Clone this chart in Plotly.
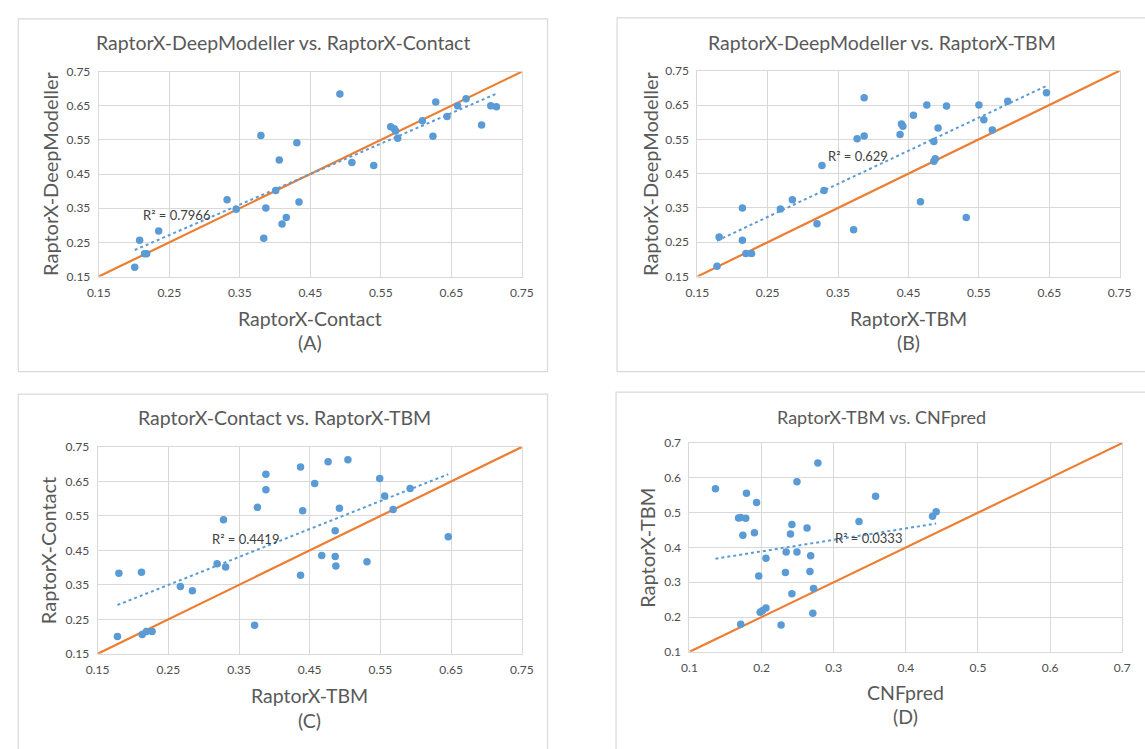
import numpy as np
import plotly.graph_objects as go

# ---------------- data ----------------
a_x = [0.492, 0.628, 0.671, 0.659, 0.706, 0.714, 0.644, 0.609, 0.693, 0.564, 0.569, 0.571,
       0.574, 0.624, 0.380, 0.431, 0.406, 0.509, 0.540, 0.401, 0.332, 0.434, 0.345, 0.387,
       0.416, 0.410, 0.235, 0.208, 0.384, 0.215, 0.218, 0.201]
a_y = [0.685, 0.661, 0.671, 0.650, 0.650, 0.647, 0.619, 0.606, 0.594, 0.589, 0.583, 0.576,
       0.555, 0.561, 0.563, 0.542, 0.491, 0.484, 0.475, 0.402, 0.375, 0.368, 0.347, 0.351,
       0.323, 0.304, 0.283, 0.256, 0.262, 0.217, 0.217, 0.177]

b_x = [0.387, 0.646, 0.591, 0.476, 0.504, 0.550, 0.457, 0.557, 0.440, 0.442, 0.492, 0.569,
       0.438, 0.387, 0.377, 0.486, 0.488, 0.486, 0.327, 0.330, 0.467, 0.285, 0.268, 0.214,
       0.532, 0.320, 0.372, 0.181, 0.214, 0.219, 0.227, 0.178]
b_y = [0.671, 0.686, 0.661, 0.650, 0.647, 0.650, 0.620, 0.607, 0.595, 0.588, 0.583, 0.577,
       0.564, 0.560, 0.552, 0.544, 0.493, 0.486, 0.474, 0.401, 0.368, 0.374, 0.347, 0.350,
       0.322, 0.304, 0.286, 0.265, 0.256, 0.217, 0.217, 0.180]

c_x = [0.504, 0.476, 0.437, 0.388, 0.549, 0.457, 0.592, 0.388, 0.556, 0.376, 0.492, 0.568,
       0.440, 0.328, 0.486, 0.646, 0.467, 0.486, 0.531, 0.319, 0.331, 0.487, 0.437, 0.180,
       0.212, 0.267, 0.284, 0.372, 0.178, 0.213, 0.219, 0.227]
c_y = [0.713, 0.707, 0.692, 0.671, 0.659, 0.644, 0.630, 0.626, 0.608, 0.575, 0.572, 0.569,
       0.565, 0.539, 0.507, 0.490, 0.435, 0.432, 0.417, 0.411, 0.402, 0.405, 0.378, 0.384,
       0.387, 0.345, 0.333, 0.233, 0.200, 0.206, 0.215, 0.215]

d_x = [0.278, 0.249, 0.136, 0.179, 0.358, 0.193, 0.442, 0.437, 0.168, 0.171, 0.178, 0.335,
       0.242, 0.263, 0.190, 0.240, 0.174, 0.234, 0.249, 0.268, 0.206, 0.233, 0.267, 0.196,
       0.272, 0.242, 0.206, 0.198, 0.201, 0.271, 0.171, 0.227]
d_y = [0.643, 0.589, 0.569, 0.556, 0.547, 0.529, 0.503, 0.490, 0.485, 0.486, 0.484, 0.475,
       0.466, 0.456, 0.442, 0.439, 0.435, 0.387, 0.387, 0.376, 0.369, 0.328, 0.331, 0.318,
       0.282, 0.267, 0.226, 0.214, 0.218, 0.211, 0.179, 0.177]

titles = ["RaptorX-DeepModeller vs. RaptorX-Contact", "RaptorX-DeepModeller vs. RaptorX-TBM",
          "RaptorX-Contact vs. RaptorX-TBM", "RaptorX-TBM vs. CNFpred"]
x_titles = ["RaptorX-Contact", "RaptorX-TBM", "RaptorX-TBM", "CNFpred"]
y_titles = ["RaptorX-DeepModeller", "RaptorX-DeepModeller", "RaptorX-Contact", "RaptorX-TBM"]
panel_labels = ["(A)", "(B)", "(C)", "(D)"]
r2_texts = ["R² = 0.7966", "R² = 0.629", "R² = 0.4419", "R² = 0.0333"]
r2_pos = [(0.26, 0.329), (0.378, 0.501), (0.359, 0.482), (0.348, 0.426)]
ticks_abc = [0.15, 0.25, 0.35, 0.45, 0.55, 0.65, 0.75]
ticks_d = [0.1, 0.2, 0.3, 0.4, 0.5, 0.6, 0.7]

# ---------------- layout geometry (pixels) ----------------
W, H = 1145, 749
plots = [  # left, right, top, bottom
    (88.6, 520.7, 65, 274),
    (700, 1131.4, 64, 274),
    (87.5, 520.7, 448, 659),
    (692, 1134, 444, 657),
]
boxes = [(6.4, 547, 11, 371), (618, 1160, 10, 371), (6.4, 547, 394, 760), (617, 1160, 392, 760)]
title_pos = [(277, 35), (889, 35), (278, 418), (888, 417)]
title_size = [19.5, 19.5, 19.5, 18]
xt_y = [(317, 341), (317, 341), (702, 727), (698, 723)]
yt_x = [38.6, 651, 37.5, 649]

def px(x):
    return x / W

def py(y):
    return 1 - y / H

BLUE = "#5B9BD5"
ORANGE = "#ED7D31"
GRID = "#D9D9D9"
TXT = "#595959"
FONT = "Lato"

fig = go.Figure()
data = [(a_x, a_y), (b_x, b_y), (c_x, c_y), (d_x, d_y)]
annotations = []
shapes = []

for i, (xs, ys) in enumerate(data):
    n = "" if i == 0 else str(i + 1)
    xa, ya = "x" + n, "y" + n
    ticks = ticks_d if i == 3 else ticks_abc
    lo, hi = ticks[0], ticks[-1]
    # y = x reference line
    fig.add_trace(go.Scatter(x=[lo, hi], y=[lo, hi], mode="lines",
                             line=dict(color=ORANGE, width=2.2), xaxis=xa, yaxis=ya,
                             showlegend=False, hoverinfo="skip"))
    # linear trendline fitted from the data
    k, b = np.polyfit(xs, ys, 1)
    tx = np.array([min(xs), max(xs)])
    fig.add_trace(go.Scatter(x=tx, y=k * tx + b, mode="lines",
                             line=dict(color=BLUE, width=2, dash="dot"), xaxis=xa, yaxis=ya,
                             showlegend=False, hoverinfo="skip"))
    fig.add_trace(go.Scatter(x=xs, y=ys, mode="markers",
                             marker=dict(color=BLUE, size=7.5), xaxis=xa, yaxis=ya,
                             showlegend=False))
    l, r, t, btm = plots[i]
    axis_common = dict(range=[lo, hi], tickvals=ticks, ticktext=[f"{v:g}" for v in ticks],
                       showgrid=True, gridcolor=GRID, gridwidth=1, zeroline=False,
                       showline=True, linecolor=GRID, linewidth=1, mirror=True,
                       ticks="", tickfont=dict(family=FONT, size=12, color="#4D4D4D"))
    fig.update_layout(**{
        "xaxis" + n: dict(domain=[px(l), px(r)], anchor=ya, ticklabelstandoff=5, **axis_common),
        "yaxis" + n: dict(domain=[py(btm), py(t)], anchor=xa, ticklabelstandoff=5, **axis_common),
    })
    # panel box
    bl, br, bt, bb = boxes[i]
    shapes.append(dict(type="rect", xref="paper", yref="paper", x0=px(bl), x1=px(br),
                       y0=py(bb), y1=py(bt), line=dict(color=GRID, width=1.2)))
    # title
    annotations.append(dict(text=titles[i], x=px(title_pos[i][0]), y=py(title_pos[i][1]),
                            xref="paper", yref="paper", showarrow=False,
                            font=dict(family=FONT, size=title_size[i], color=TXT),
                            xanchor="center", yanchor="middle"))
    cx = (l + r) / 2
    annotations.append(dict(text=x_titles[i], x=px(cx), y=py(xt_y[i][0]), xref="paper", yref="paper",
                            showarrow=False, font=dict(family=FONT, size=19.5, color=TXT),
                            xanchor="center", yanchor="middle"))
    annotations.append(dict(text=panel_labels[i], x=px(cx), y=py(xt_y[i][1]), xref="paper", yref="paper",
                            showarrow=False, font=dict(family=FONT, size=19.5, color=TXT),
                            xanchor="center", yanchor="middle"))
    annotations.append(dict(text=y_titles[i], x=px(yt_x[i]), y=py((t + btm) / 2), xref="paper",
                            yref="paper", showarrow=False, textangle=-90,
                            font=dict(family=FONT, size=20, color=TXT),
                            xanchor="center", yanchor="middle"))
    annotations.append(dict(text=r2_texts[i], x=r2_pos[i][0], y=r2_pos[i][1], xref=xa, yref=ya,
                            showarrow=False, font=dict(family=FONT, size=13, color="#404040"),
                            xanchor="center", yanchor="middle"))

fig.update_layout(width=W, height=H, margin=dict(l=0, r=0, t=0, b=0),
                  paper_bgcolor="white", plot_bgcolor="white",
                  annotations=annotations, shapes=shapes, showlegend=False)

fig.write_html("out.html",
               post_script="document.body.style.margin='0';document.body.style.overflow='hidden';")
